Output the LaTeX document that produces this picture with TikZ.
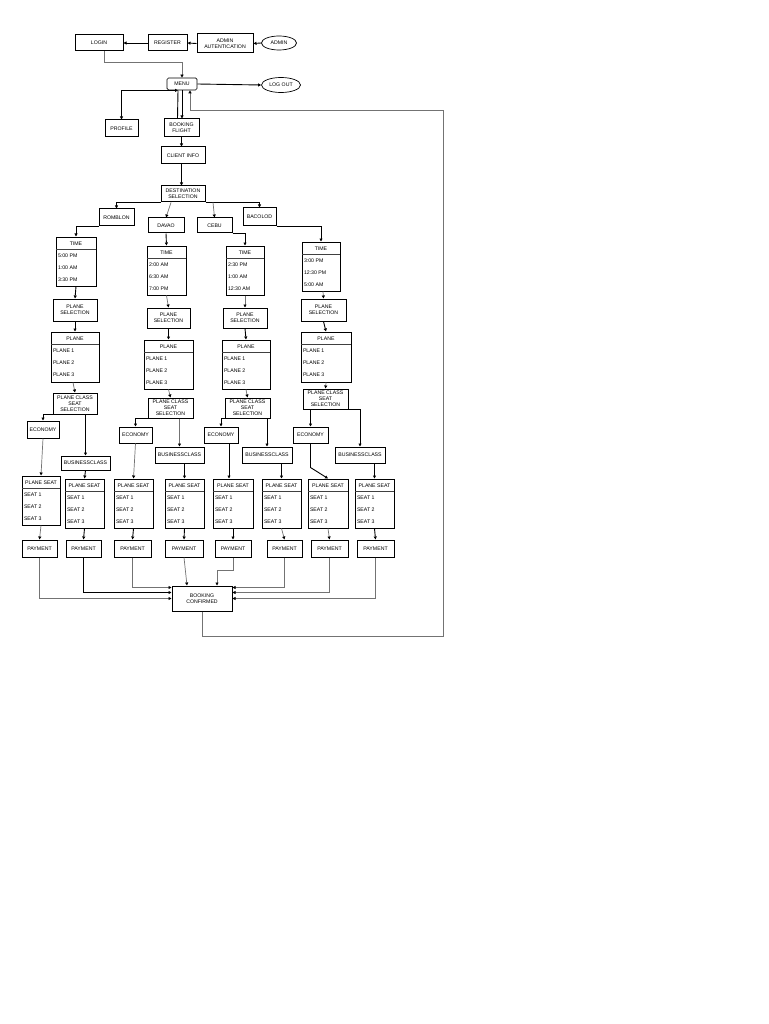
\documentclass[tikz,border=0pt]{standalone}
\usepackage{fontspec}
\setmainfont{Liberation Sans}
\usetikzlibrary{arrows.meta,shapes.geometric}
\tikzset{
 every node/.style={font=\fontsize{5.2}{6}\selectfont},
 bx/.style={draw, line width=1pt, inner sep=0pt, align=center},
 lbox/.style={draw, line width=1pt, inner sep=0pt},
 divl/.style={line width=1.2pt, black!75},
 itm/.style={inner sep=0pt, anchor=west},
 hdr/.style={inner sep=0pt},
 ell/.style={draw, ellipse, line width=0.7pt, inner sep=0pt},
 ln/.style={line width=0.9pt, -{Triangle[length=3pt,width=3pt]}},
 gl/.style={line width=0.7pt, draw=black!55, -{Triangle[length=3pt,width=3pt,color=black]}},
}
\newcommand\mybox[7][]{%
 \pgfmathsetmacro\myW{#5-#3}\pgfmathsetmacro\myH{#6-#4}%
 \pgfmathsetmacro\myX{(#3+#5)/2}\pgfmathsetmacro\myY{(#4+#6)/2}%
 \node[bx, minimum width=\myW pt, minimum height=\myH pt, #1] (#2) at (\myX,\myY) {#7};}
\newcommand\mylist[9]{%
 \pgfmathsetmacro\myW{#4-#2}\pgfmathsetmacro\myH{#5-#3}%
 \pgfmathsetmacro\myX{(#2+#4)/2}\pgfmathsetmacro\myY{(#3+#5)/2}%
 \node[lbox, minimum width=\myW pt, minimum height=\myH pt] (#1) at (\myX,\myY) {};
 \draw[divl] (#2,#3+12.5) -- (#4,#3+12.5);
 \node[hdr] (#1-h) at (\myX,#3+6.5) {#6};
 \node[itm] (#1-a) at (#2+1.8,#3+18.5) {#7};
 \node[itm] (#1-b) at (#2+1.8,#3+30.5) {#8};
 \node[itm] (#1-c) at (#2+1.8,#3+42.5) {#9};}
\begin{document}
\begin{tikzpicture}[x=1pt,y=-1pt]
\useasboundingbox[fill=white] (0,0) rectangle (768,1024);
% top row
\mybox{login}{75}{35}{123}{51}{LOGIN}
\mybox{register}{148}{35}{187}{51}{REGISTER}
\mybox{auth}{197}{34}{253}{53}{ADMIN\\AUTENTICATION}
\node[ell, minimum width=35pt, minimum height=14pt] (admin) at (279,43) {ADMIN};
\mybox[rounded corners=1.5pt, line width=0.7pt]{menu}{167}{78}{197}{90}{MENU}
\node[ell, minimum width=39pt, minimum height=15pt] (logout) at (281,85) {LOG OUT};
\mybox{profile}{105}{120}{138}{137}{PROFILE}
\mybox{booking}{164}{119}{199}{137}{BOOKING\\FLIGHT}
\mybox{client}{161}{147}{205}{164}{CLIENT INFO}
\mybox{dest}{161}{186}{205}{202}{DESTINATION\\SELECTION}
\mybox{romblon}{99}{209}{134}{226}{ROMBLON}
\mybox{davao}{148}{218}{184}{233}{DAVAO}
\mybox{cebu}{197}{218}{232}{233}{CEBU}
\mybox{bacolod}{243}{208}{276}{226}{BACOLOD}
% time lists
\mylist{timeR}{56}{237}{96}{286}{TIME}{5:00 PM}{1:00 AM}{3:30 PM}
\mylist{timeD}{147}{246}{186}{295}{TIME}{2:00 AM}{6:30 AM}{7:00 PM}
\mylist{timeC}{226}{246}{264}{295}{TIME}{2:30 PM}{1:00 AM}{12:30 AM}
\mylist{timeB}{302}{242}{340}{291}{TIME}{3:00 PM}{12:30 PM}{5:00 AM}
% plane selection
\mybox{psR}{53}{299}{97}{321}{PLANE\\SELECTION}
\mybox{psD}{147}{308}{190}{328}{PLANE\\SELECTION}
\mybox{psC}{223}{308}{267}{328}{PLANE\\SELECTION}
\mybox{psB}{301}{299}{346}{321}{PLANE\\SELECTION}
% plane lists
\mylist{plR}{51}{332}{99}{382}{PLANE}{PLANE 1}{PLANE 2}{PLANE 3}
\mylist{plD}{144}{340}{193}{389}{PLANE}{PLANE 1}{PLANE 2}{PLANE 3}
\mylist{plC}{222}{340}{270}{389}{PLANE}{PLANE 1}{PLANE 2}{PLANE 3}
\mylist{plB}{301}{332}{351}{382}{PLANE}{PLANE 1}{PLANE 2}{PLANE 3}
% class seat selection
\mybox{pcsR}{53}{393}{97}{414}{PLANE CLASS\\SEAT\\SELECTION}
\mybox{pcsD}{148}{398}{193}{418}{PLANE CLASS\\SEAT\\SELECTION}
\mybox{pcsC}{225}{398}{270}{418}{PLANE CLASS\\SEAT\\SELECTION}
\mybox{pcsB}{303}{389}{348}{409}{PLANE CLASS\\SEAT\\SELECTION}
% economy
\mybox{ecR}{27}{421}{59}{438}{ECONOMY}
\mybox{ecD}{119}{427}{152}{443}{ECONOMY}
\mybox{ecC}{204}{427}{238}{443}{ECONOMY}
\mybox{ecB}{293}{427}{328}{443}{ECONOMY}
% business
\mybox{buR}{61}{456}{110}{470}{BUSINESSCLASS}
\mybox{buD}{155}{447}{204}{463}{BUSINESSCLASS}
\mybox{buC}{242}{447}{292}{463}{BUSINESSCLASS}
\mybox{buB}{335}{447}{385}{463}{BUSINESSCLASS}
% plane seat lists
\mylist{seR1}{22}{476}{60}{525}{PLANE SEAT}{SEAT 1}{SEAT 2}{SEAT 3}
\mylist{seR2}{65}{479}{104}{528}{PLANE SEAT}{SEAT 1}{SEAT 2}{SEAT 3}
\mylist{seD1}{114}{479}{153}{528}{PLANE SEAT}{SEAT 1}{SEAT 2}{SEAT 3}
\mylist{seD2}{165}{479}{204}{528}{PLANE SEAT}{SEAT 1}{SEAT 2}{SEAT 3}
\mylist{seC1}{213}{479}{253}{528}{PLANE SEAT}{SEAT 1}{SEAT 2}{SEAT 3}
\mylist{seC2}{262}{479}{301}{528}{PLANE SEAT}{SEAT 1}{SEAT 2}{SEAT 3}
\mylist{seB1}{308}{479}{348}{528}{PLANE SEAT}{SEAT 1}{SEAT 2}{SEAT 3}
\mylist{seB2}{355}{479}{394}{528}{PLANE SEAT}{SEAT 1}{SEAT 2}{SEAT 3}
% payments
\mybox{pay1}{22}{540}{57}{557}{PAYMENT}
\mybox{pay2}{66}{540}{101}{557}{PAYMENT}
\mybox{pay3}{114}{540}{151}{557}{PAYMENT}
\mybox{pay4}{165}{540}{203}{557}{PAYMENT}
\mybox{pay5}{215}{540}{251}{557}{PAYMENT}
\mybox{pay6}{267}{540}{302}{557}{PAYMENT}
\mybox{pay7}{311}{540}{348}{557}{PAYMENT}
\mybox{pay8}{357}{540}{394}{557}{PAYMENT}
\mybox{bc}{172}{586}{232}{611}{BOOKING\\CONFIRMED}
\coordinate (retc) at (443,110);

% ---- connectors ----
\draw[ln] (admin.west) -- (auth.east);
\draw[ln] (auth.west) -- (register.east);
\draw[ln] (register.west) -- (login.east);
\draw[gl] ([xshift=5pt]login.south) -- ++(0,11) -| (menu.north);
\draw[ln] (menu.east) -- (logout.west);
\draw[line width=0.9pt, {Triangle[length=3pt,width=3pt]}-{Triangle[length=3pt,width=3pt]}] ([xshift=-4pt]menu.south) -| (profile.north);
\draw[line width=0.9pt] ([xshift=-4pt]menu.south) -- ([xshift=-4pt]booking.north);
\draw[ln] (menu.south) -- (menu.south |- booking.north);
\draw[gl] (bc.south) -- ++(0,25) -| (retc) -| ([xshift=8pt]menu.south);
\draw[ln] (booking.south) -- (booking.south |- client.north);
\draw[ln] (client.south -| booking.south) -- (dest.north -| booking.south);
\draw[ln] (dest.south west) -| (romblon.north);
\draw[ln] (dest.south east) -| (bacolod.north);
\draw[gl] ([xshift=-12pt]dest.south) -- (davao.north);
\draw[gl] ([xshift=30pt]dest.south) -- (cebu.north);
\draw[ln] (romblon.south west) -| (timeR.north);
\draw[ln] (davao.south) -- (timeD.north);
\draw[ln] (cebu.south east) -| (timeC.north);
\draw[ln] (bacolod.south east) -| (timeB.north);
% time -> plane selection -> plane -> class
\draw[ln] (timeR.south) -- (psR.north);
\draw[gl] (timeD.south) -- (psD.north);
\draw[gl] (timeC.south) -- (psC.north);
\draw[gl] ([xshift=2pt]timeB.south) -- (psB.north);
\draw[ln] (psR.south) -- (plR.north);
\draw[ln] (psD.south) -- (plD.north);
\draw[ln] (psC.south) -- (plC.north);
\draw[ln] (psB.south) -- (plB.north);
\draw[gl] ([xshift=-2pt]plR.south) -- (pcsR.north);
\draw[gl] (plD.south) -- (pcsD.north);
\draw[gl] (plC.south) -- (pcsC.north);
\draw[gl] (plB.south) -- (pcsB.north);
% class -> economy / business
\draw[ln] (pcsR.south west) -| (ecR.north);
\draw[ln] (buR.north |- pcsR.south) -- (buR.north);
\draw[ln] (pcsD.south west) -| (ecD.north);
\draw[gl] (buD.north |- pcsD.south) -- (buD.north);
\draw[ln] (pcsC.south west) -| (ecC.north);
\draw[ln] (buC.north |- pcsC.south) -- (buC.north);
\draw[ln] (ecB.north |- pcsB.south) -- (ecB.north);
\draw[ln] (pcsB.south east) -| (buB.north);
% economy / business -> seats
\draw[gl] (ecR.south) -- (seR1.north);
\draw[ln] (buR.south) -- (seR2.north);
\draw[gl] (ecD.south) -- (seD1.north);
\draw[ln] (seD2.north |- buD.south) -- (seD2.north);
\draw[ln] ([xshift=8pt]ecC.south) -- ([xshift=-4pt]seC1.north);
\draw[ln] (seC2.north |- buC.south) -- (seC2.north);
\draw[ln] (ecB.south) -- ++(0,24) -- (seB1.north);
\draw[ln] (seB2.north |- buB.south) -- (seB2.north);
% seats -> payment
\draw[gl] (seR1.south) -- (pay1.north);
\draw[ln] (seR2.south) -- (pay2.north);
\draw[ln] (seD1.south) -- (pay3.north);
\draw[ln] (seD2.south) -- (pay4.north);
\draw[ln] (seC1.south) -- (pay5.north);
\draw[gl] (seC2.south) -- (pay6.north);
\draw[gl] (seB1.south) -- (pay7.north);
\draw[ln] (seB2.south) -- (pay8.north);
% payment -> booking confirmed
\draw[gl] (pay1.south) |- (bc.west);
\draw[ln] (pay2.south) |- ([yshift=6pt]bc.west);
\draw[gl] (pay3.south) |- ([yshift=11pt]bc.west);
\draw[gl] (pay4.south) -- ([xshift=-15pt]bc.north);
\draw[gl] (pay5.south) -- ++(0,13) -| ([xshift=15pt]bc.north);
\draw[gl] (pay6.south) |- ([yshift=11pt]bc.east);
\draw[gl] (pay7.south) |- ([yshift=6pt]bc.east);
\draw[gl] (pay8.south) |- (bc.east);
\end{tikzpicture}
\end{document}
